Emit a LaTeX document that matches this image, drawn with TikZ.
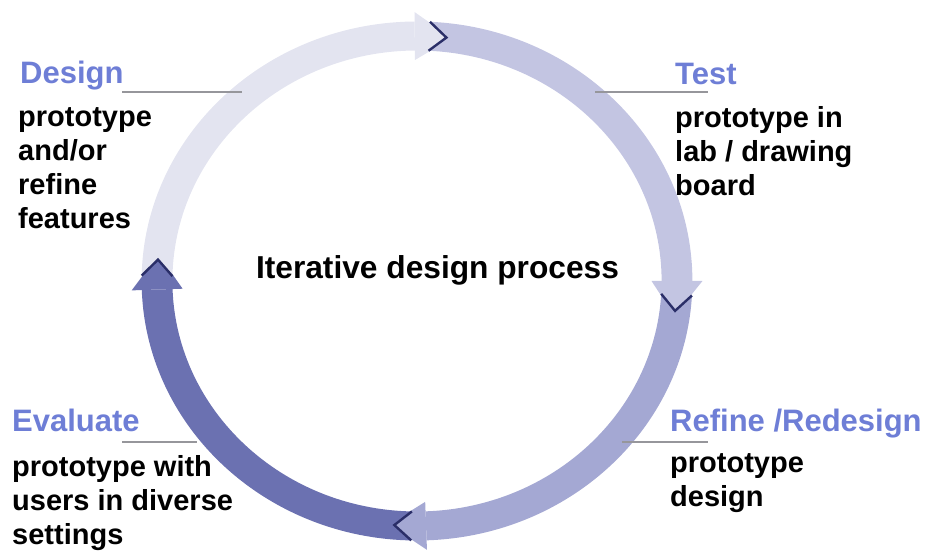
\documentclass[tikz,border=0pt]{standalone}
\usepackage{fontspec}
\setmainfont{Liberation Sans}

\definecolor{ringA}{RGB}{227,228,240}
\definecolor{ringB}{RGB}{195,197,226}
\definecolor{ringC}{RGB}{164,168,211}
\definecolor{ringD}{RGB}{107,113,177}
\definecolor{notchNavy}{RGB}{42,46,104}
\definecolor{headBlue}{RGB}{110,126,214}
\definecolor{ruleGray}{RGB}{150,150,155}

\begin{document}
\begin{tikzpicture}
[x=1pt,y=1pt,%
  notchDecorate/.style={draw=notchNavy,line width=2.4pt,line join=miter},%
  ruleDecorate/.style={draw=ruleGray,line width=1.6pt},%
  headDecorate/.style={font=\fontsize{31}{36}\selectfont\bfseries,text=headBlue,inner sep=0pt,anchor=base west},%
  textDecorate/.style={font=\fontsize{29}{34}\selectfont\bfseries,align=left,inner sep=0pt,anchor=base west}]
\useasboundingbox (0,0) rectangle (931,553);
%% ring of four arrows
\begin{scope}[shift={(417,272)},xscale=1.0612]
\foreach \col/\bs/\be in {ringA/175/83.5, ringB/83.5/-7, ringC/-7/-95, ringD/-95/-185}
{
  \fill[\col] (\be+7:269) -- (\be-1.2:245) -- (\be+7:221) -- cycle;
}
\foreach \col/\bs/\be in {ringA/175/83.5, ringB/83.5/-7, ringC/-7/-95, ringD/-95/-185}
{
  \fill[\col] (\bs+3.8:259.5) arc[start angle=\bs+3.8,end angle=\be+7,radius=259.5]
    -- (\be+7:230.5) arc[start angle=\be+7,end angle=\bs+3.8,radius=230.5]
    -- (\bs:245) -- cycle;
  \draw[notchDecorate] (\bs+3.8:259.5) -- (\bs:245) -- (\bs+3.8:230.5);
}
\end{scope}
%% labels
\node (title) at (437.5,274) [anchor=base,inner sep=0pt,font=\fontsize{31.7}{37}\selectfont\bfseries] {Iterative design process};
\foreach \nodename/\x/\y/\txt in {
  design/20/469/{Design}, test/675/468/{Test},
  evaluate/12/121/{Evaluate}, refine/670/121/{Refine /Redesign}}
{
  \node (\nodename) at (\x,\y) [headDecorate] {\txt};
}
\node (designText) at (18,324) [textDecorate] {prototype\\and/or\\refine\\features};
\node (testText) at (675,357) [textDecorate] {prototype in\\lab / drawing\\board};
\node (evaluateText) at (12,8) [textDecorate] {prototype with\\users in diverse\\settings};
\node (refineText) at (670,46) [textDecorate] {prototype\\design};
%% rules under the headings
\foreach \nodename/\xa/\xb/\y in {
  design/122/242/461, test/595/708/461, evaluate/122/197/111, refine/622/708/111}
{
  \coordinate (\nodename A) at (\xa,\y);
  \coordinate (\nodename B) at (\xb,\y);
  \draw[ruleDecorate] (\nodename A) -- (\nodename B);
}
\end{tikzpicture}
\end{document}
